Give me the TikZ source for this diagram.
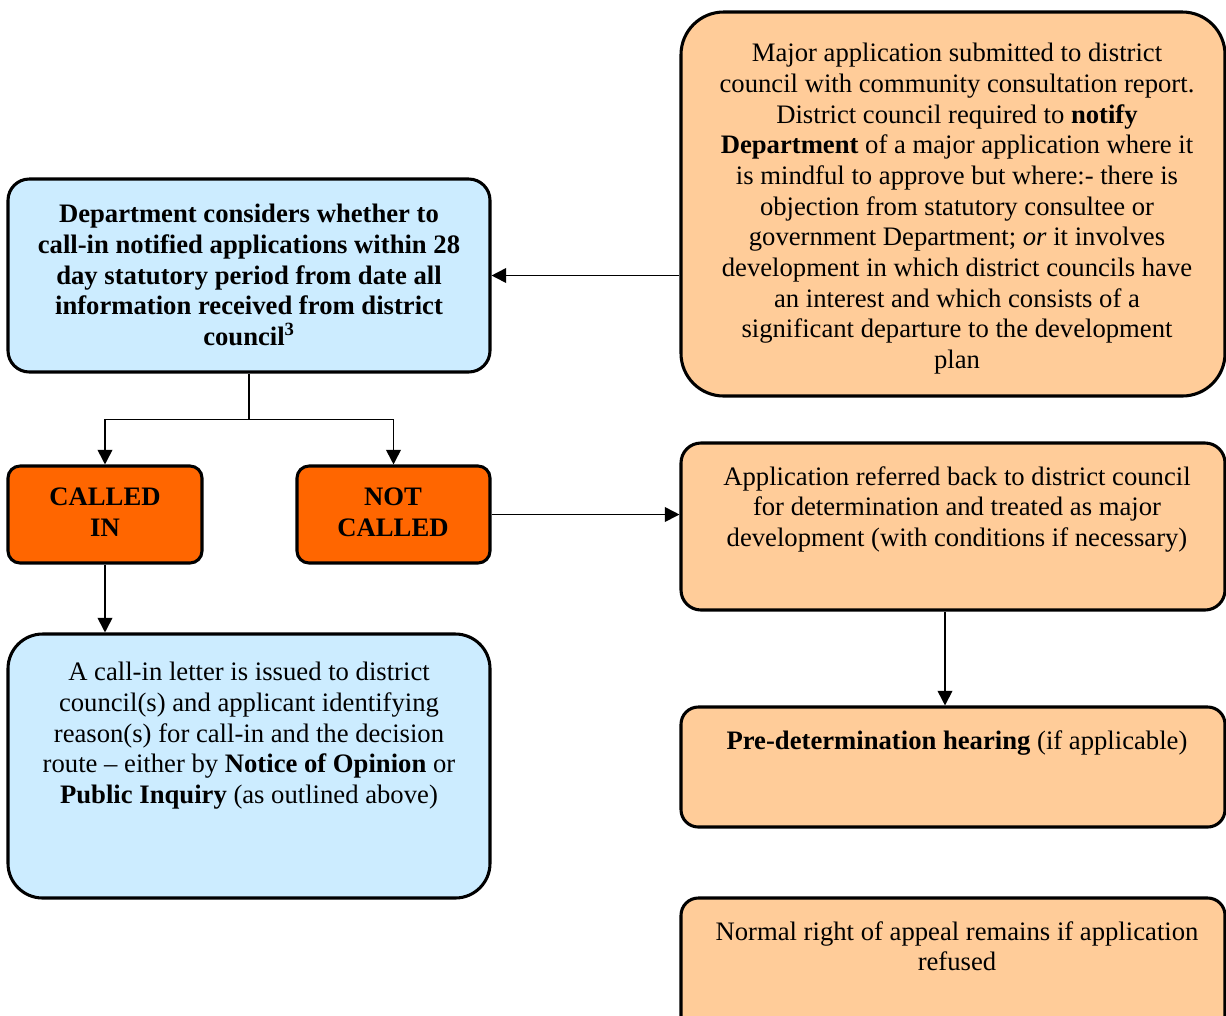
\documentclass[tikz,border=0pt]{standalone}
\usepackage{fontspec}
\setmainfont{Liberation Serif}
\usetikzlibrary{arrows.meta,fit}
\definecolor{lblue}{HTML}{CCECFF}
\definecolor{lorange}{HTML}{FFCC99}
\definecolor{dorange}{HTML}{FF6600}
\begin{document}
\begin{tikzpicture}[x=0.75pt,y=-0.75pt,
  box/.style={draw=black, line width=2.3pt, inner sep=0pt},
  bluebox/.style={box, fill=lblue},
  orbox/.style={box, fill=lorange},
  darkbox/.style={box, fill=dorange, rounded corners=9pt},
  txt/.style={align=center, inner sep=0pt, font=\fontsize{20}{23}\selectfont},
  arr/.style={line width=1.3pt, -{Triangle[length=11pt,width=11pt]}},
  ln/.style={line width=1.3pt}]
\clip (0,0) rectangle (1226,1015);
\fill[white] (0,0) rectangle (1226,1015);
% boxes
\node[orbox, rounded corners=32pt, fit={(681,12)(1225,396)}] (o1) {};
\node[bluebox, rounded corners=16pt, fit={(8,179)(490,372)}] (b1) {};
\node[darkbox, fit={(8,466)(202,563)}] (ci) {};
\node[darkbox, fit={(297,466)(490,563)}] (nc) {};
\node[orbox, rounded corners=15pt, fit={(681,443)(1225,610)}] (o2) {};
\node[bluebox, rounded corners=26pt, fit={(8,634)(490,898)}] (b2) {};
\node[orbox, rounded corners=13pt, fit={(681,707)(1225,827)}] (pd) {};
\node[orbox, rounded corners=13pt, fit={(681,898)(1225,1060)}] (nr) {};
% texts
\node[txt, anchor=north] (o1t) at (957,43) {Major application submitted to district\\
council with community consultation report.\\
District council required to \textbf{notify}\\
\textbf{Department} of a major application where it\\
is mindful to approve but where:- there is\\
objection from statutory consultee or\\
government Department; \textit{or} it involves\\
development in which district councils have\\
an interest and which consists of a\\
significant departure to the development\\
plan};
\node[txt, anchor=north, font=\fontsize{20}{23}\selectfont\bfseries] (b1t) at (249,204) {Department considers whether to\\
call-in notified applications within 28\\
day statutory period from date all\\
information received from district\\
council\textsuperscript{3}};
\node[txt, anchor=north, font=\fontsize{20}{23}\selectfont\bfseries] (cit) at (105,488) {CALLED\\IN};
\node[txt, anchor=north, font=\fontsize{20}{23}\selectfont\bfseries] (nct) at (393,488) {NOT\\CALLED};
\node[txt, anchor=north] (o2t) at (957,466) {Application referred back to district council\\
for determination and treated as major\\
development (with conditions if necessary)};
\node[txt, anchor=north] (b2t) at (249,662) {A call-in letter is issued to district\\
council(s) and applicant identifying\\
reason(s) for call-in and the decision\\
route -- either by \textbf{Notice of Opinion} or\\
\textbf{Public Inquiry} (as outlined above)};
\node[txt, anchor=north] (pdt) at (957,730) {\textbf{Pre-determination hearing} (if applicable)};
\node[txt, anchor=north] (nrt) at (957,921) {Normal right of appeal remains if application\\refused};
% connectors
\draw[arr] (o1.west |- b1.east) -- (b1.east);
\draw[ln] (b1.south) -- ++(0,46) coordinate (sp);
\draw[arr] (sp) -| (ci.north);
\draw[arr] (sp) -| (nc.north);
\draw[arr] (ci.south) -- (ci.south |- b2.north);
\draw[arr] (nc.east) -- (nc.east -| o2.west);
\draw[arr] ([xshift=-6pt]o2.south) -- ([xshift=-6pt]pd.north);
\end{tikzpicture}
\end{document}
